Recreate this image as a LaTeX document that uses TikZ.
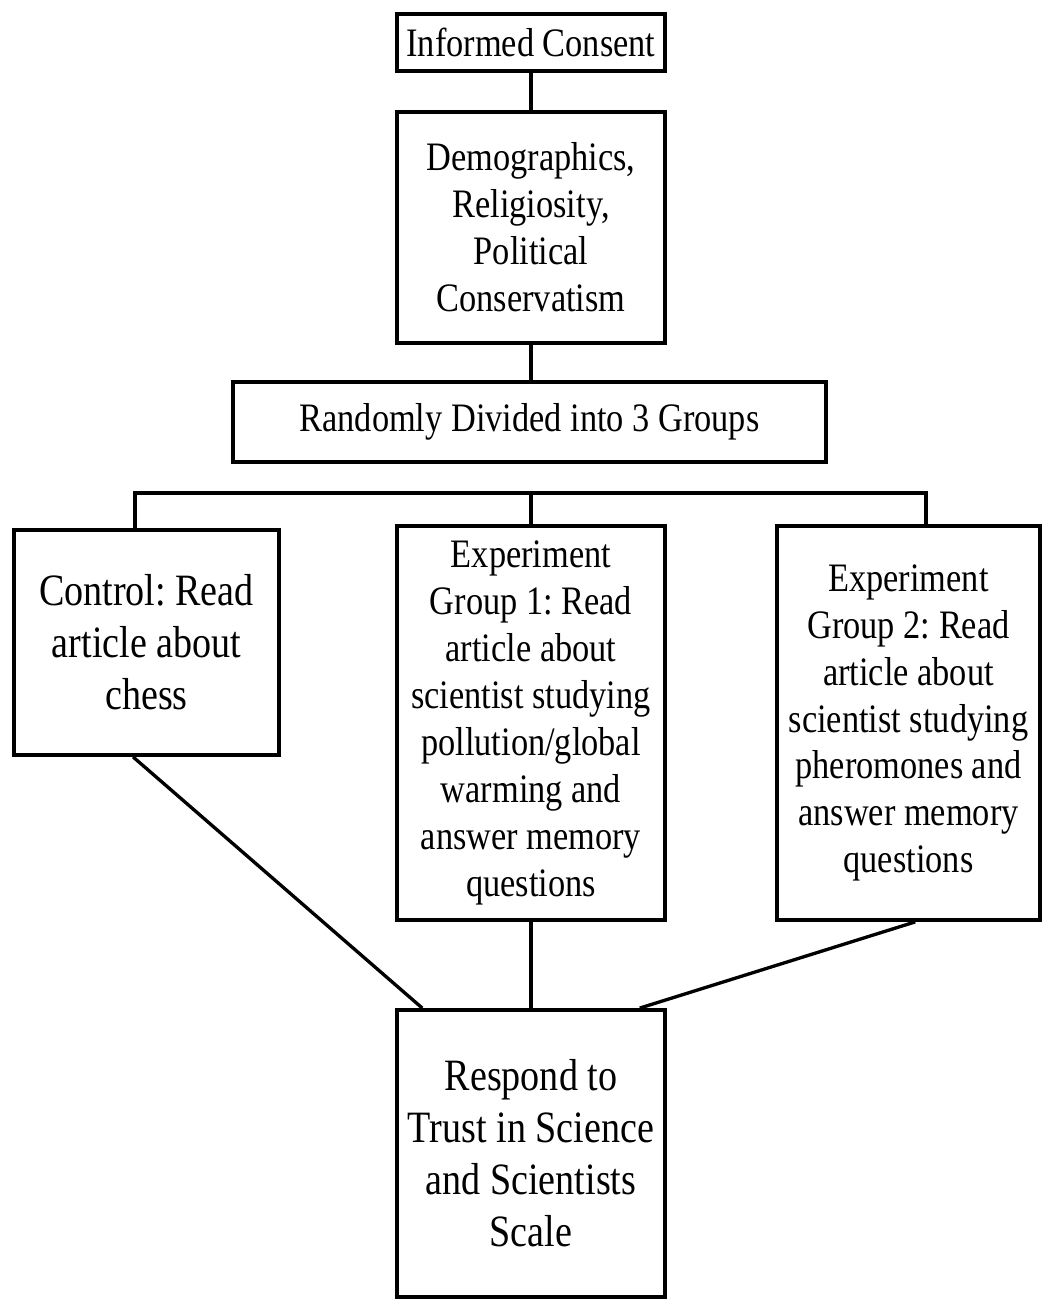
\documentclass[tikz,border=0pt]{standalone}
\usepackage{fontspec}
\setmainfont[FakeStretch=0.85]{Liberation Serif}
\usetikzlibrary{calc}
\frenchspacing

\begin{document}
\begin{tikzpicture}[
        x=0.02cm, y=-0.02cm,
        box/.style={draw, line width=2.2pt, align=center, inner sep=0pt,
            line join=miter},
        small text/.style={font=\fontsize{23}{26.7}\selectfont},
        big text/.style={font=\fontsize{25.5}{29.6}\selectfont},
        link/.style={line width=1.9pt},
    ]
    \useasboundingbox (0,0) rectangle (1044,1304);

    % top boxes
    \node[box, small text, minimum width=5.36cm, minimum height=1.14cm]
        (consent) at (531,42.5) {Informed Consent};
    \node[box, small text, minimum width=5.36cm, minimum height=4.62cm]
        (demo) at (531,227.5) {Demographics,\\Religiosity,\\Political\\Conservatism};
    \node[box, small text, minimum width=11.86cm, minimum height=1.6cm]
        (split) at (529.5,422) {Randomly Divided into 3 Groups};

    % groups
    \node[box, big text, minimum width=5.3cm, minimum height=4.5cm]
        (control) at (146.5,642.5) {Control: Read\\article about\\chess};
    \node[box, small text, minimum width=5.36cm, minimum height=7.88cm]
        (exp1) at (531,723) {Experiment\\Group 1: Read\\article about\\scientist studying\\pollution/global\\warming and\\answer memory\\questions};
    \node[box, small text, minimum width=5.26cm, minimum height=7.88cm]
        (exp2) at (908.5,723) {Experiment\\Group 2: Read\\article about\\scientist studying\\pheromones and\\answer memory\\questions};

    % outcome
    \node[box, big text, minimum width=5.36cm, minimum height=5.74cm]
        (respond) at (531,1153.5) {Respond to\\Trust in Science\\and Scientists\\Scale};

    % links
    \draw[link] (consent.south) -- (demo.north);
    \draw[link] (demo.south) -- (demo.south |- split.north);

    \coordinate (busL) at (135,493);
    \coordinate (busR) at (926,493);
    \draw[link] (control.north -| busL) -- (busL) -- (busR) -- (exp2.north -| busR);
    \draw[link] (exp1.north) -- (exp1.north |- busL);

    \draw[link] ($(control.south west)!0.45!(control.south east)$)
        -- ($(respond.north west)!0.1!(respond.north east)$);
    \draw[link] (exp1.south) -- (respond.north);
    \draw[link] ($(exp2.south west)!0.525!(exp2.south east)$)
        -- ($(respond.north west)!0.9!(respond.north east)$);
\end{tikzpicture}
\end{document}
